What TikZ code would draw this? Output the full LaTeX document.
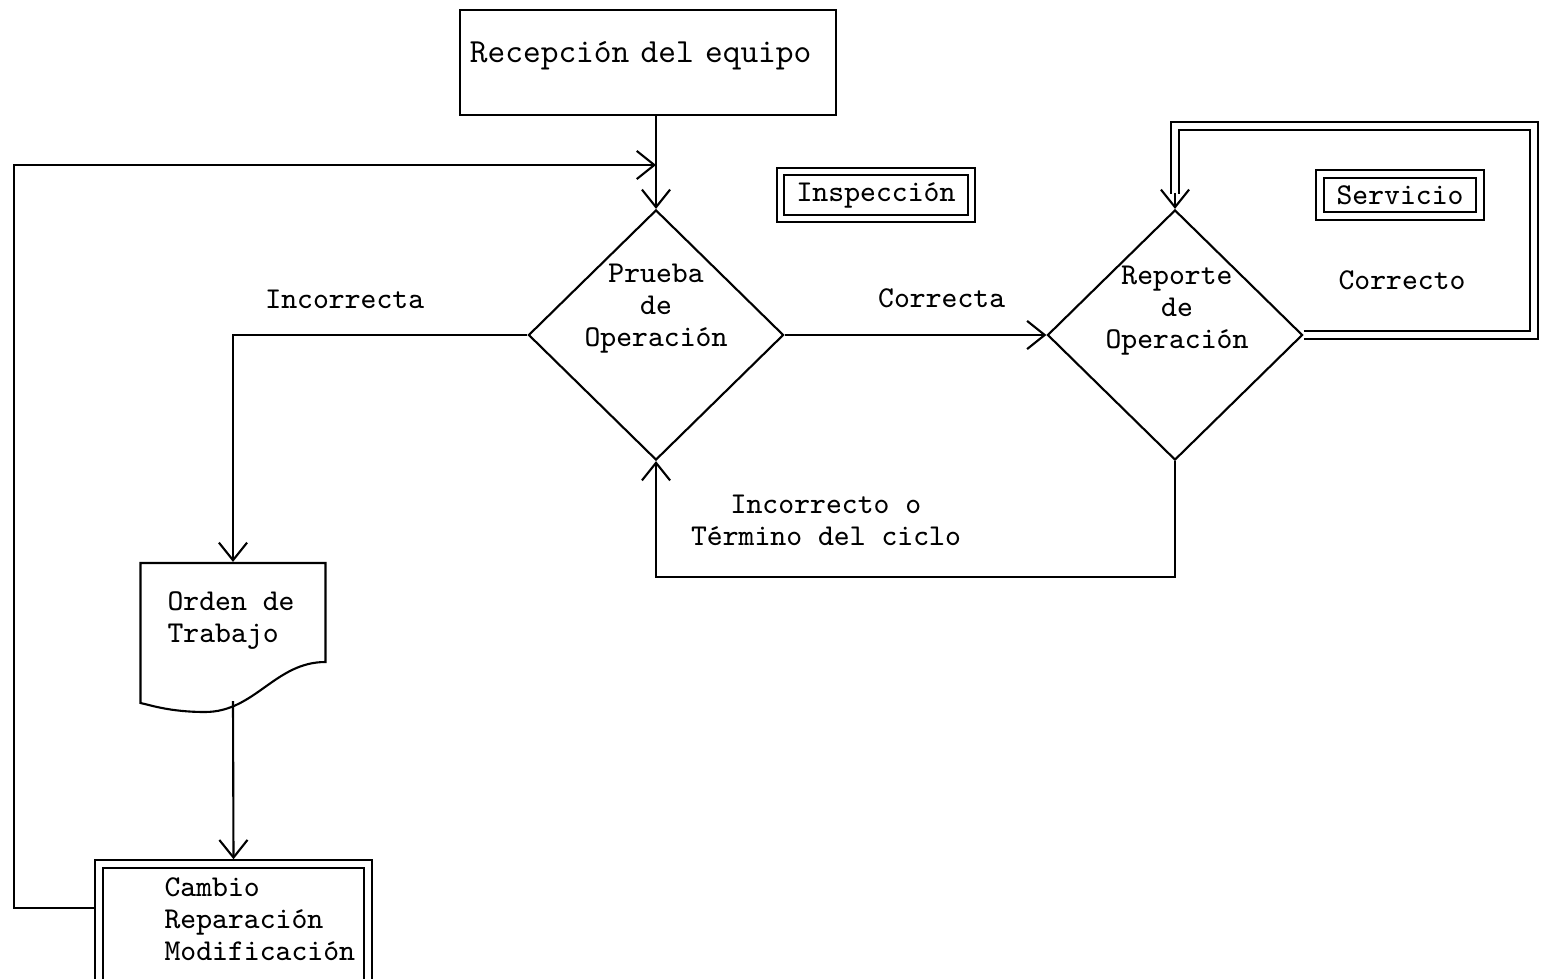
\documentclass[tikz,border=0pt]{standalone}
\usepackage{fontspec}
\usepackage{tikz}
\usetikzlibrary{shapes.geometric,arrows.meta,positioning}

\begin{document}
\begin{tikzpicture}[x=0.01cm, y=-0.01cm, line width=0.6pt,
        font=\ttfamily\fontsize{8.6}{9.1}\selectfont,
        arr/.style={-{Straight Barb[length=5pt,width=8pt]}},
        dbl/.style={double, double distance=1.5pt},
        decision/.style={diamond, draw, inner sep=0pt, minimum width=2.55cm, minimum height=2.5cm},
        dblbox/.style={draw, dbl, rectangle, inner sep=2pt, outer sep=1.35pt},
        lbl/.style={inner sep=1pt, align=center}]
        \useasboundingbox (0,0) rectangle (1545,979);
        % inspeccion
        \node[draw, rectangle, align=left, text width=3.56cm, inner xsep=0.1cm, inner ysep=0.2cm,
            text height=0.33cm, text depth=0.32cm, font=\ttfamily\fontsize{9.6}{10}\selectfont]
            (recep) at (648,62.5) {Recepción del equipo};
        \node[decision] (d1) at (656,335) {};
        \node[lbl] (d1txt) at (656,309) {Prueba\\de\\Operación};
        \node[dblbox, minimum width=1.91cm, minimum height=0.47cm] (insp) at (876,195) {Inspección};
        % servicio
        \node[decision] (d2) at (1175,335) {};
        \node[lbl] (d2txt) at (1177,311) {Reporte\\de\\Operación};
        \node[dblbox, minimum width=1.6cm, minimum height=0.42cm] (serv) at (1400,195) {Servicio};
        \node[lbl] (correcto) at (1402,280) {Correcto};
        \node[lbl] (incorrecto) at (826,520) {Incorrecto o\\Término del ciclo};
        % orden de trabajo
        \node[minimum width=1.85cm, minimum height=1.49cm] (orden) at (233,637.5) {};
        \draw (140.5,703) |- (325.5,563) -- (325.5,662)
            .. controls (275,662) and (255,712) .. (205,712)
            .. controls (170,712) and (150,705) .. (140.5,703) -- cycle;
        \node[lbl, align=left, anchor=north west] (ordentxt) at (163,587) {Orden de\\Trabajo};
        \node[dblbox, minimum width=2.69cm, minimum height=1.21cm] (mod) at (233.5,924.5) {};
        \node[lbl, align=left, anchor=north west] (modtxt) at (160,873) {Cambio\\Reparación\\Modificación};

        \coordinate (merge) at (656,165);
        \coordinate (lcorner) at (14,165);
        \coordinate (srvne) at (1534,126);

        \draw[arr] (recep.south -| d1.north) -- (d1.north);
        \draw[arr] ([yshift=0.165cm]mod.west) -| (lcorner) -- (merge);
        \draw[arr] (d1.west) -| node[pos=0.31, above=4pt] (incorrecta) {Incorrecta} (orden.north);
        \draw[arr] (d1.east) -- node[pos=0.6, above=4pt] (correcta) {Correcta} (d2.west);
        \draw[arr] (d2.south) -- ++(0,116) -| (d1.south);
        \draw[arr] ([yshift=0.12cm]orden.south) -- (mod.north);
        \draw[dbl] (d2.east) -| (srvne) -| ([yshift=0.15cm]d2.north);
        \draw[arr] ([yshift=0.16cm]d2.north) -- (d2.north);
\end{tikzpicture}
\end{document}
